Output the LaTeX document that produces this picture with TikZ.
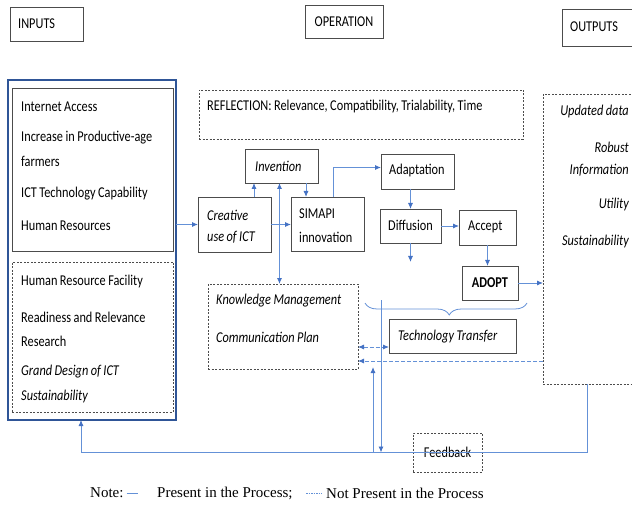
\documentclass[tikz,border=0pt]{standalone}
\usepackage{fontspec}
\setmainfont{Carlito}[FakeStretch=0.82,WordSpace=0.9]
\newfontfamily\notefont{Liberation Serif}
\usetikzlibrary{arrows.meta,decorations.pathreplacing,positioning}

\definecolor{lineblue}{RGB}{100,145,215}
\definecolor{tipblue}{RGB}{68,114,196}
\definecolor{frameblue}{RGB}{47,85,151}

\tikzset{
  box/.style={draw=black!70, line width=0.9pt, anchor=north west, inner sep=0pt, outer sep=0pt,
    font=\fontsize{15}{18}\selectfont},
  dbox/.style={box, line width=0.7pt, dash pattern=on 2pt off 1.5pt},
  txt/.style={anchor=west, inner sep=0pt, font=\fontsize{15}{18}\selectfont},
  itxt/.style={txt, font=\fontsize{15}{18}\selectfont\itshape},
  flow/.style={draw=lineblue, line width=0.9pt, -{Latex[length=6pt,width=5pt,color=tipblue]}},
  both/.style={flow, {Latex[length=6pt,width=5pt,color=tipblue]}-{Latex[length=6pt,width=5pt,color=tipblue]}},
  back/.style={flow, dash pattern=on 4pt off 2pt},
}

\begin{document}
\begin{tikzpicture}[x=1pt,y=-1pt]
\useasboundingbox (0,0) rectangle (632,505);

% headings
\node [box, minimum width=73pt, minimum height=34pt] (inputs) at (10,7) {};
\node [txt] (inputstxt) at (18,24) {INPUTS};
\node [box, minimum width=78pt, minimum height=33pt] (operation) at (305,5) {OPERATION};
\node [box, minimum width=80pt, minimum height=37pt] (outputs) at (562,9) {};
\node [txt] (outputstxt) at (570,27) {OUTPUTS};

% inputs
\node [box, draw=frameblue, line width=1.2pt, minimum width=168pt, minimum height=340pt] (inputbox) at (8,80) {};
\node [box, minimum width=161pt, minimum height=163pt] (present) at (12,88) {};
\node [dbox, minimum width=161pt, minimum height=150pt] (absent) at (12,262) {};
\node [txt] (in1) at (21,107) {Internet Access};
\node [txt] (in2) at (21,138) {Increase in Productive-age};
\node [txt] (in3) at (21,161) {farmers};
\node [txt] (in4) at (21,194) {ICT Technology Capability};
\node [txt] (in5) at (21,226) {Human Resources};
\node [txt] (in6) at (21,282) {Human Resource Facility};
\node [txt] (in7) at (21,317) {Readiness and Relevance};
\node [txt] (in8) at (21,341) {Research};
\node [itxt] (in9) at (21,372) {Grand Design of ICT};
\node [itxt] (in10) at (21,396) {Sustainability};

% operation
\node [dbox, minimum width=324pt, minimum height=49pt] (reflection) at (199,90) {};
\node [txt] (refltxt) at (207,107) {REFLECTION: Relevance, Compatibility, Trialability, Time};
\node [box, minimum width=73pt, minimum height=34pt] (invention) at (245,149) {};
\node [itxt] (inventtxt) at (255,166) {Invention};
\node [box, minimum width=73pt, minimum height=55pt] (creative) at (198,197) {};
\node [itxt] (cr1) at (207,215) {Creative};
\node [itxt] (cr2) at (207,237) {use of ICT};
\node [box, minimum width=73pt, minimum height=54pt] (simapi) at (291,197) {};
\node [txt] (si1) at (299,214) {SIMAPI};
\node [txt] (si2) at (299,237) {innovation};
\node [box, minimum width=73pt, minimum height=35pt] (adapt) at (381,154) {};
\node [txt] (adapttxt) at (389,171) {Adaptation};
\node [box, minimum width=61pt, minimum height=34pt] (diff) at (380,209) {};
\node [txt] (difftxt) at (388,225) {Diffusion};
\node [box, minimum width=57pt, minimum height=35pt] (accept) at (459,210) {};
\node [txt] (accepttxt) at (468,227) {Accept};
\node [box, minimum width=56pt, minimum height=34pt, font=\fontsize{15}{18}\selectfont\bfseries] (adopt) at (462,266) {ADOPT};
\node [dbox, minimum width=150pt, minimum height=85pt] (km) at (208,284) {};
\node [itxt] (km1) at (216,301) {Knowledge Management};
\node [itxt] (km2) at (216,337) {Communication Plan};
\node [box, minimum width=127pt, minimum height=34pt] (tt) at (389,319) {};
\node [itxt] (tttxt) at (398,337) {Technology Transfer};
\node [dbox, minimum width=69pt, minimum height=39pt] (feedback) at (413,433) {Feedback};

% outputs
\node [dbox, minimum width=100pt, minimum height=290pt] (outbox) at (543,94) {};
\node [itxt, anchor=east] (out1) at (629,112) {Updated data};
\node [itxt, anchor=east] (out2) at (629,147) {Robust};
\node [itxt, anchor=east] (out3) at (629,170) {Information};
\node [itxt, anchor=east] (out4) at (629,205) {Utility};
\node [itxt, anchor=east] (out5) at (629,242) {Sustainability};

% connectors
\coordinate (bl) at (365,303);
\coordinate (br) at (527,303);
\coordinate (ttdown) at (381,300);
\coordinate (kmup) at (373,367);
\coordinate (ttlow) at ([yshift=-11pt]tt.west);
\coordinate (kmback) at ([yshift=8pt]km.south east);

\draw [flow] (inputbox.east |- creative.west) -- (creative.west);
\draw [flow] ([xshift=9pt]invention.south west |- creative.north) -- ([xshift=9pt]invention.south west);
\draw [both] ([xshift=-2pt]invention.south) -- ([xshift=-2pt]invention.south |- km.north);
\draw [flow] (creative.east) -- (creative.east -| simapi.west);
\draw [flow] ([xshift=-12pt]invention.south east) -- ([xshift=-12pt]invention.south east |- simapi.north);
\draw [flow] ([xshift=6pt]simapi.north) |- ([yshift=4pt]adapt.west);
\draw [flow] (diff.north |- adapt.south) -- (diff.north);
\draw [flow] (diff.east) -- (diff.east -| accept.west);
\draw [flow] (diff.south) -- ([yshift=-19pt]diff.south);
\draw [flow] (accept.south) -- (accept.south |- adopt.north);
\draw [flow] (adopt.east) -- (adopt.east -| outbox.west);
\draw [lineblue, line width=0.8pt, decorate, decoration={brace, mirror, amplitude=12pt, aspect=0.52}] (bl) -- (br);
\draw [flow] (ttdown) -- (ttdown |- feedback.center);
\draw [both, dash pattern=on 4pt off 2pt] (km.east |- ttlow) -- (ttlow);
\draw [back] (kmback -| outbox.west) -- (kmback);
\draw [flow] (kmup |- feedback.center) -- (kmup);
\draw [flow] ([xshift=44pt]outbox.south west) |- (feedback.center) -| ([xshift=-11pt]inputbox.south);

% note
\node [anchor=west, inner sep=0pt, font=\notefont\fontsize{15}{18}\selectfont] (note) at (90,493) {Note:};
\node [anchor=west, inner sep=0pt, font=\notefont\fontsize{15}{18}\selectfont] (yes) at (157,493) {Present in the Process;};
\node [anchor=west, inner sep=0pt, font=\notefont\fontsize{15}{18}\selectfont] (no) at (326,493) {Not Present in the Process};
\draw [lineblue, line width=0.8pt] ([xshift=3pt]note.east) -- ([xshift=-19pt]yes.west);
\draw [lineblue, line width=0.8pt, dash pattern=on 1.5pt off 1pt] ([xshift=-20pt]no.west) -- ([xshift=-4pt]no.west);
\end{tikzpicture}
\end{document}
